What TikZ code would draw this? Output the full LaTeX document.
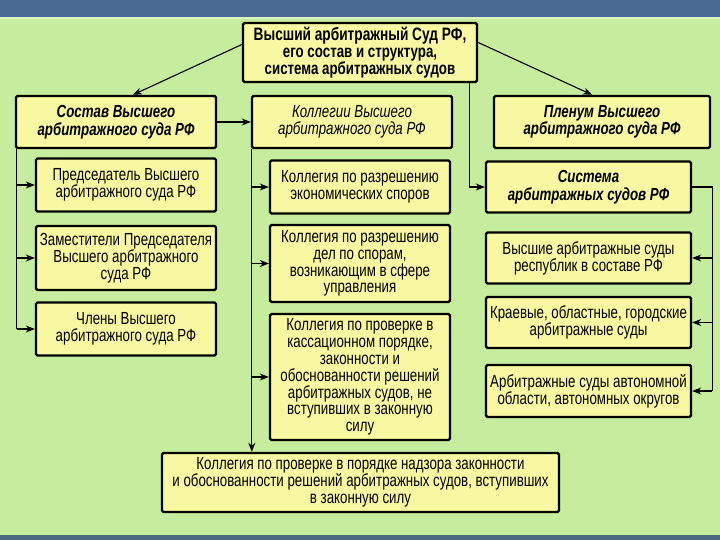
\documentclass[tikz,border=0pt]{standalone}
\usepackage{fontspec}
\setmainfont{Liberation Sans}[FakeStretch=0.76]
\usetikzlibrary{arrows.meta}
\definecolor{bggreen}{RGB}{198,237,158}
\definecolor{topblue}{RGB}{74,106,148}
\definecolor{botblue}{RGB}{74,104,128}
\definecolor{boxfill}{RGB}{248,248,162}
\begin{document}
\begin{tikzpicture}[x=1pt,y=-1pt,
  box/.style={draw=black, line width=2.4pt, fill=boxfill, rounded corners=1.5pt,
    align=center, inner sep=0pt, font=\fontsize{17.5}{16.8}\selectfont},
  hbox/.style={box, font=\fontsize{17.5}{17.5}\selectfont\bfseries\itshape},
  wire/.style={line width=1.1pt},
  conn/.style={line width=1.1pt, -{Stealth[length=9pt,width=7pt]}}]
\fill[bggreen] (0,0) rectangle (720,540);
\fill[topblue] (0,0) rectangle (720,17);
\fill[bggreen!60!white] (0,17) rectangle (720,19.5);
\fill[botblue] (0,535) rectangle (720,540);
\useasboundingbox (0,0) rectangle (720,540);

% top
\node[box, minimum width=234pt, minimum height=59pt, font=\fontsize{17.5}{17}\selectfont\bfseries] (top) at (360,52.5)
  {{\fontsize{18}{17}\selectfont Высший арбитражный Суд РФ,}\\его состав и структура,\\система арбитражных судов};

% headers
\node[hbox, minimum width=200pt, minimum height=52pt] (L0) at (116,122) {Состав Высшего\\арбитражного суда РФ};
\node[box, minimum width=200pt, minimum height=52pt, font=\fontsize{17.5}{17.5}\selectfont\itshape] (M0) at (352,122) {Коллегии Высшего\\арбитражного суда РФ};
\node[hbox, minimum width=216pt, minimum height=52pt] (R0) at (602,122) {Пленум Высшего\\арбитражного суда РФ};

% left column
\node[box, minimum width=180pt, minimum height=53pt] (L1) at (126,185) {Председатель Высшего\\арбитражного суда РФ};
\node[box, minimum width=180pt, minimum height=64pt] (L2) at (126,258) {Заместители Председателя\\Высшего арбитражного\\суда РФ};
\node[box, minimum width=180pt, minimum height=53pt] (L3) at (126,329) {Члены Высшего\\арбитражного суда РФ};

% middle column
\node[box, minimum width=180pt, minimum height=53pt] (M1) at (360,187) {Коллегия по разрешению\\экономических споров};
\node[box, minimum width=180pt, minimum height=77pt] (M2) at (360,263.5) {Коллегия по разрешению\\дел по спорам,\\возникающим в сфере\\управления};
\node[box, minimum width=180pt, minimum height=126pt] (M3) at (360,377) {Коллегия по проверке в\\кассационном порядке,\\законности и\\обоснованности решений\\арбитражных судов, не\\вступивших в законную\\силу};
\node[box, minimum width=397pt, minimum height=59pt] (B) at (360.5,482.5) {Коллегия по проверке в порядке надзора законности\\и обоснованности решений арбитражных судов, вступивших\\в законную силу};

% right column
\node[hbox, minimum width=205pt, minimum height=51pt] (R1) at (588.5,187) {Система\\арбитражных судов РФ};
\node[box, minimum width=205pt, minimum height=51pt] (R2) at (588.5,258) {Высшие арбитражные суды\\республик в составе РФ};
\node[box, minimum width=205pt, minimum height=51pt] (R3) at (588.5,322.5) {Краевые, областные, городские\\арбитражные суды};
\node[box, minimum width=205pt, minimum height=52pt] (R4) at (588.5,391) {Арбитражные суды автономной\\области, автономных округов};

% connectors from top
\draw[conn] ([yshift=8pt]top.west) -- ([xshift=17pt]L0.north);
\draw[conn] ([yshift=10pt]top.east) -- ([xshift=-10pt]R0.north);
\coordinate (tx) at ([xshift=-9pt]top.south east);
\draw[conn] (tx) |- (R1.west);
\draw[conn] (L0.east) -- (M0.west);

% left tree
\coordinate (lx) at ([xshift=2pt]L0.south west);
\draw[wire] (lx) -- (lx |- L3.west);
\draw[conn] (lx |- L1.west) -- (L1.west);
\draw[conn] (lx |- L2.west) -- (L2.west);
\draw[conn] (lx |- L3.west) -- (L3.west);

% middle tree
\coordinate (mx) at ([xshift=1pt]M0.south west);
\draw[conn] (mx) -- (mx |- B.north);
\draw[conn] (mx |- M1.west) -- (M1.west);
\draw[conn] (mx |- M2.west) -- (M2.west);
\draw[conn] (mx |- M3.west) -- (M3.west);

% right tree
\coordinate (rx) at ([xshift=20pt]R1.east);
\draw[wire] (R1.east) -- (rx) -- (rx |- R4.east);
\draw[conn] (rx |- R2.east) -- (R2.east);
\draw[conn] (rx |- R3.east) -- (R3.east);
\draw[conn] (rx |- R4.east) -- (R4.east);
\end{tikzpicture}
\end{document}
